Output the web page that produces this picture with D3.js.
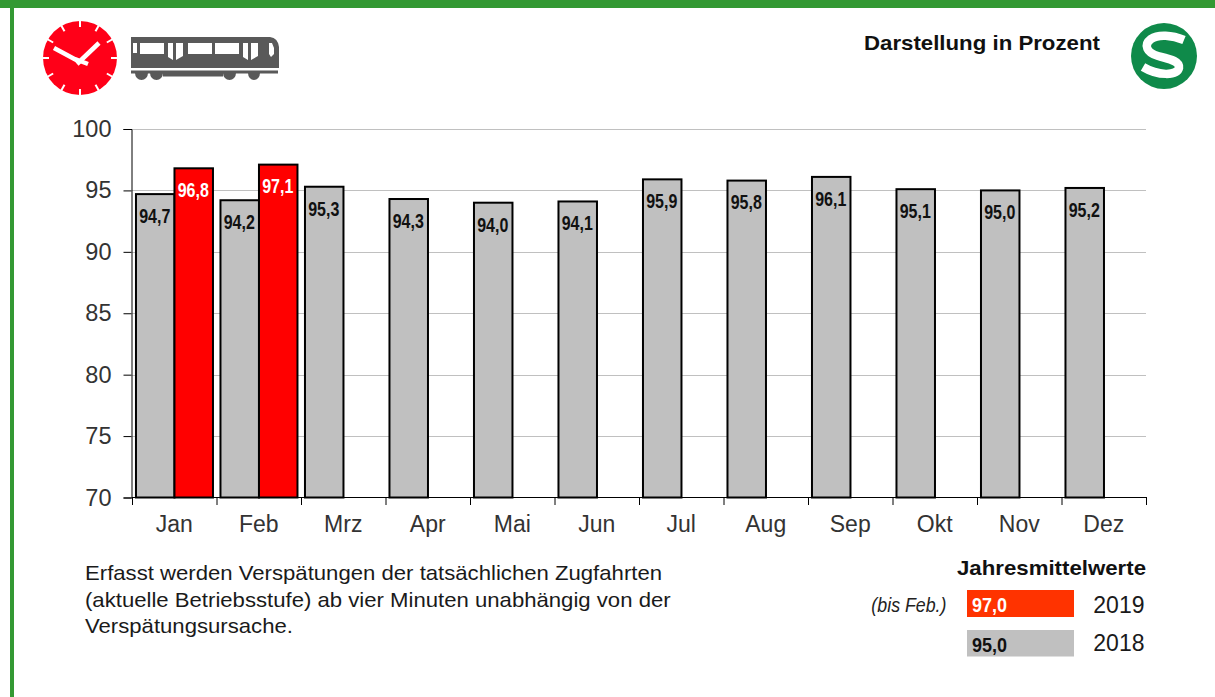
<!DOCTYPE html>
<html><head><meta charset="utf-8">
<script src="https://cdn.jsdelivr.net/npm/d3@7/dist/d3.min.js"></script>
<style>html,body{margin:0;padding:0;background:#fff;overflow:hidden}svg{display:block}text{font-family:"Liberation Sans",Arial,sans-serif}</style>
</head><body><svg id="c" width="1215" height="697"></svg>
<script>
const months=["Jan","Feb","Mrz","Apr","Mai","Jun","Jul","Aug","Sep","Okt","Nov","Dez"];
const values2018=[94.7,94.2,95.3,94.3,94.0,94.1,95.9,95.8,96.1,95.1,95.0,95.2];
const values2019=[96.8,97.1,null,null,null,null,null,null,null,null,null,null];
const yTicks=[70,75,80,85,90,95,100];
const noteLines=["Erfasst werden Verspätungen der tatsächlichen Zugfahrten","(aktuelle Betriebsstufe) ab vier Minuten unabhängig von der","Verspätungsursache."];
const legendYears=["2019","2018"];
const legendValues=[97.0,95.0];
const fmt=v=>v.toFixed(1).replace(".",",");

const svg=d3.select("#c");
// frame
svg.append("rect").attr("x",0).attr("y",0).attr("width",1215).attr("height",8).attr("fill","#339933");
svg.append("rect").attr("x",10).attr("y",0).attr("width",4).attr("height",697).attr("fill","#339933");

const x=d3.scaleBand().domain(months).range([132,1146]);
const sub=d3.scaleBand().domain(["2018","2019"]).range([0,x.bandwidth()]).paddingInner(0).paddingOuter(0.0974).align(0.53);
const y=d3.scaleLinear().domain([70,100]).range([497.5,129]);

// grid
svg.append("g").selectAll("line").data(yTicks.filter(d=>d>70)).join("line")
 .attr("x1",132).attr("x2",1146).attr("y1",d=>Math.round(y(d))+.5).attr("y2",d=>Math.round(y(d))+.5)
 .attr("stroke","#c0c0c0").attr("stroke-width",1);

// bars
const series=[{k:"2018",vals:values2018,fill:"#c0c0c0",txt:"#111"},{k:"2019",vals:values2019,fill:"#ff0000",txt:"#fff"}];
series.forEach(s=>{
 const data=months.map((m,i)=>({m,v:s.vals[i]})).filter(d=>d.v!=null);
 const g=svg.append("g");
 g.selectAll("rect").data(data).join("rect")
  .attr("x",d=>x(d.m)+sub(s.k)).attr("width",sub.bandwidth())
  .attr("y",d=>y(d.v)).attr("height",d=>y(70)-y(d.v))
  .attr("fill",s.fill).attr("stroke","#000").attr("stroke-width",2);
 g.selectAll("text").data(data).join("text")
  .attr("transform",d=>`translate(${x(d.m)+sub(s.k)+sub.bandwidth()/2-.5},${y(d.v)+28.8}) scale(.8,1)`)
  .attr("text-anchor","middle").attr("font-size",20).attr("font-weight","bold").attr("fill",s.txt)
  .text(d=>fmt(d.v));
});

// axes
const ay=svg.append("g").attr("transform","translate(131.5,0)").call(d3.axisLeft(y).tickValues(yTicks).tickSize(8).tickPadding(12));
ay.selectAll("text").attr("font-size",23.5).attr("fill","#333").attr("font-family",'"Liberation Sans"');
const ax=svg.append("g").attr("transform","translate(0,497)").call(d3.axisBottom(x).tickSize(0).tickPadding(19));
ax.selectAll("text").attr("font-size",23).attr("fill","#333").attr("font-family",'"Liberation Sans"');
ax.append("g").selectAll("line").data(months.map(m=>x(m)).concat([x.range()[1]])).join("line")
 .attr("x1",d=>d+.5).attr("x2",d=>d+.5).attr("y1",0).attr("y2",8).attr("stroke","#000");
svg.selectAll(".domain").attr("stroke","#000");

// header
svg.append("text").attr("transform","translate(864,50) scale(1.085,1)").attr("font-size",20.5).attr("font-weight","bold").attr("fill","#111").text("Darstellung in Prozent");

// note
svg.append("g").selectAll("text").data(noteLines).join("text")
 .attr("transform",(d,i)=>`translate(85,${[580,606.5,632.5][i]}) scale(1.08,1)`).attr("font-size",20.5).attr("fill","#1a1a1a").text(d=>d);

// legend
svg.append("text").attr("transform","translate(1146,575) scale(1.085,1)").attr("text-anchor","end").attr("font-size",20.5).attr("font-weight","bold").attr("fill","#111").text("Jahresmittelwerte");
svg.append("text").attr("transform","translate(946.5,612) scale(.89,1)").attr("text-anchor","end").attr("font-size",20).attr("font-style","italic").attr("fill","#222").text("(bis Feb.)");
const lg=[{fill:"#ff3300",txt:"#fff"},{fill:"#c0c0c0",txt:"#111"}];
legendYears.forEach((yr,i)=>{
 svg.append("rect").attr("x",967).attr("y",[590,630][i]).attr("width",107).attr("height",[27,26.5][i]).attr("fill",lg[i].fill);
 svg.append("text").attr("transform",`translate(972,${[611.7,651.7][i]}) scale(.9,1)`).attr("font-size",20).attr("font-weight","bold").attr("fill",lg[i].txt).text(fmt(legendValues[i]));
 svg.append("text").attr("x",1144.5).attr("y",[613,651][i]).attr("text-anchor","end").attr("font-size",23).attr("fill","#1a1a1a").text(yr);
});

// clock icon
const clock=svg.append("g").attr("transform","translate(80,58)");
clock.append("circle").attr("r",37).attr("fill","#ff0018");
d3.range(12).forEach(i=>{
 const a=i*Math.PI/6;
 clock.append("line").attr("x1",Math.sin(a)*31).attr("y1",-Math.cos(a)*31).attr("x2",Math.sin(a)*37.5).attr("y2",-Math.cos(a)*37.5).attr("stroke","#fff").attr("stroke-width",2);
});
clock.append("path").attr("d","M-26,-10L0,4M19,-15L-3,6M-5,1L8,6").attr("stroke","#fff").attr("stroke-width",4.5).attr("fill","none");

// train icon
const t=svg.append("g");
t.append("path").attr("fill","#595959").attr("d","M131,37H270Q278,38 279,47V68H131Z");
t.append("rect").attr("x",131).attr("y",70.5).attr("width",147).attr("height",3).attr("fill","#595959");
t.append("path").attr("fill","#595959").attr("d","M135,73H148A6.5,7 0 0 1 135,73ZM150,73H163A6.5,7 0 0 1 150,73ZM223,73H236A6.5,7 0 0 1 223,73ZM248,73H260A6,7 0 0 1 248,73ZM163,73H223V76.5H163Z");
t.selectAll("rect.w").data([[133,43,4,10],[140,43,24,11],[188,43,24,11],[215,43,24,11]]).join("rect").attr("class","w")
 .attr("x",d=>d[0]).attr("y",d=>d[1]).attr("width",d=>d[2]).attr("height",d=>d[3]).attr("fill","#fff");
[[168,43],[243,43]].forEach(([a,b])=>{
 t.append("path").attr("fill","#fff").attr("d",`M${a},${b}h5v17l-5,-3ZM${a+8},${b}h7v13l-7,4Z`);
});
t.append("path").attr("fill","#fff").attr("d","M269,43h3l2,5v6l-3,3l-2,-3Z");

// S-Bahn logo
const s=svg.append("g").attr("transform","translate(1164,56)");
s.append("circle").attr("r",33).attr("fill","#0f8a4a");
s.append("path").attr("fill","none").attr("stroke","#fff").attr("stroke-width",8.5)
 .attr("d","M20,-16C8,-21 -6,-22 -13,-17C-21,-11 -17,-3 -6,0C6,3 16,5 15,12C13,20 -6,20 -21,11");
</script></body></html>
